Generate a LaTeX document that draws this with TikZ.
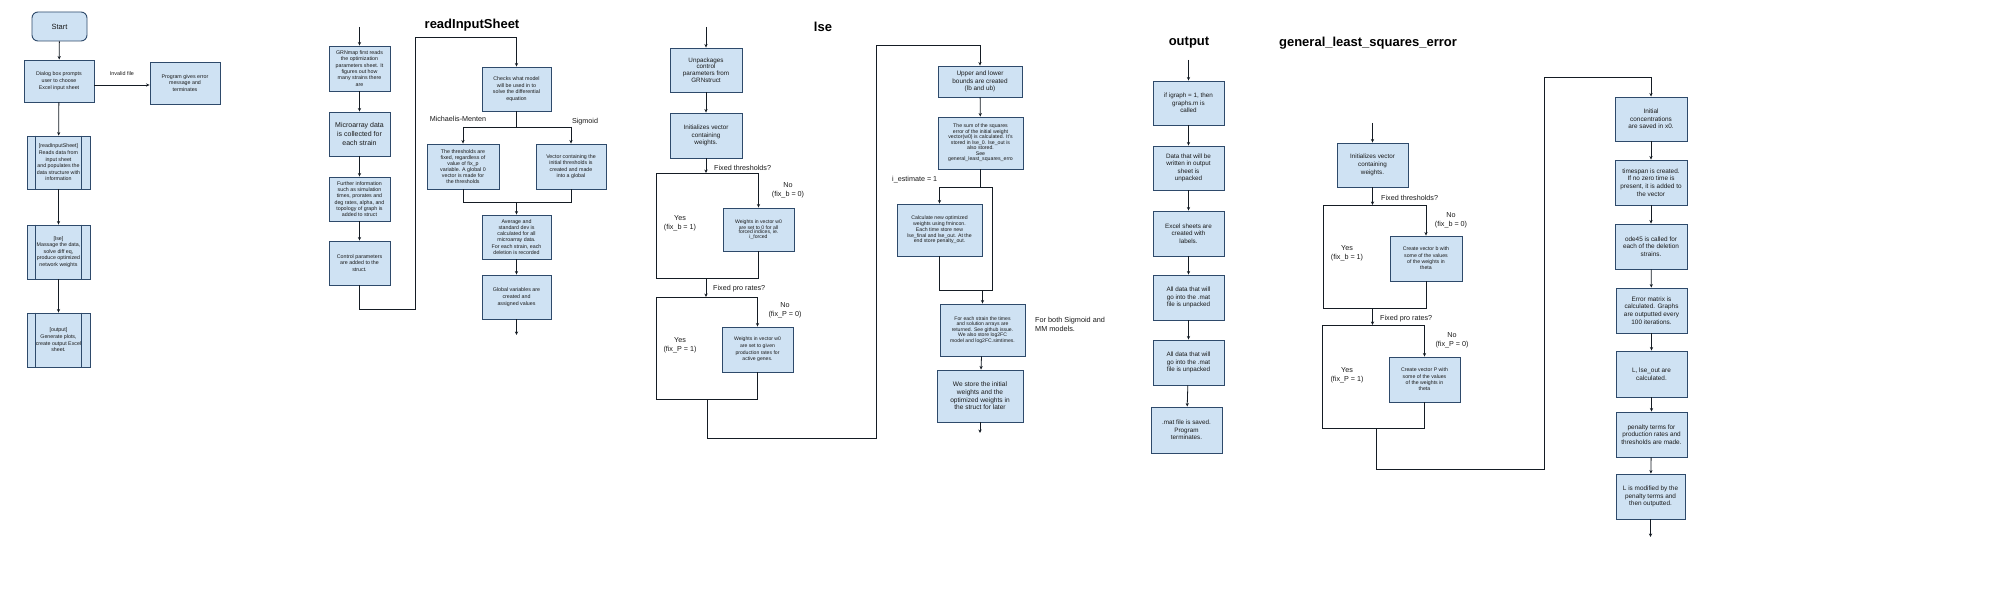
\documentclass[tikz,border=0pt]{standalone}
\usepackage{fontspec}
\setmainfont{Liberation Sans}
\usetikzlibrary{arrows.meta}
\definecolor{boxc}{HTML}{CFE2F3}
\definecolor{bordc}{HTML}{2E4A6B}
\definecolor{linec}{HTML}{151C24}
\definecolor{txtc}{HTML}{1A1A1A}
\newcommand\fsz[2]{\fontsize{#1}{#2}\selectfont}
\begin{document}
\begin{tikzpicture}[x=1pt,y=-1pt,
  box/.style={draw=bordc,fill=boxc,line width=0.9pt,align=center,inner sep=1pt,text=txtc,font=\fsz{5.3}{6.7}},
  bord/.style={draw=bordc,line width=0.9pt},
  arr/.style={-{Stealth[length=3.5pt,width=3.2pt]},line width=0.8pt,draw=linec},
  ln/.style={line width=0.8pt,draw=linec},
  lbl/.style={font=\fsz{7.2}{8.6},align=center,inner sep=0pt,text=txtc},
  ttl/.style={font=\bfseries\fsz{13}{15},inner sep=0pt,text=black}]
\fill[white] (0,0) rectangle (2000,591);
\useasboundingbox (0,0) rectangle (2000,591);

% ---------------- main program ----------------
\node[box,rounded corners=6pt,minimum width=55,minimum height=29,font=\fsz{7.5}{9}] (start) at (59.5,26.5) {Start};
\node[box,minimum width=70,minimum height=42] (dlg) at (59,81) {Dialog box prompts\\user to choose\\Excel input sheet};
\node[box,minimum width=70,minimum height=42] (err) at (185,83) {Program gives error\\message and\\terminates};
\node[box,minimum width=63,minimum height=53,font=\fsz{5.3}{6.6}] (rs) at (58.5,162.5) {[readInputSheet]\\Reads data from\\input sheet\\and populates the\\data structure with\\information};
\node[box,minimum width=63,minimum height=54,font=\fsz{5.3}{6.6}] (ls) at (58.5,252) {[lse]\\Massage the data,\\solve diff eq,\\produce optimized\\network weights};
\node[box,minimum width=63,minimum height=54,font=\fsz{5.3}{6.6}] (os) at (58.5,340) {[output]\\Generate plots,\\create output Excel\\sheet.};
\foreach \n in {rs,ls,os}{
  \draw[bord] ([xshift=9pt]\n.north west) -- ([xshift=9pt]\n.south west);
  \draw[bord] ([xshift=-9pt]\n.north east) -- ([xshift=-9pt]\n.south east);}
\draw[arr] (start) -- (dlg);
\draw[arr] (dlg) -- (rs);
\draw[arr] (rs) -- (ls);
\draw[arr] (ls) -- (os);
\draw[arr] ([yshift=-4pt]dlg.east) -- ([yshift=-4pt]dlg.east -| err.west);
\node[lbl,font=\fsz{5.4}{6.5}] (inv) at (122,74) {Invalid file};

% ---------------- readInputSheet ----------------
\node[ttl] (t1) at (472,25) {readInputSheet};
\coordinate (r0) at (359.5,27);
\node[box,minimum width=61,minimum height=45,font=\fsz{5.3}{6.3}] (R1) at (359.5,68.5) {GRNmap first reads\\the optimization\\parameters sheet. It\\figures out how\\many strains there\\are};
\node[box,minimum width=61,minimum height=44,font=\fsz{7}{9}] (R2) at (359.5,134) {Microarray data\\is collected for\\each strain};
\node[box,minimum width=61,minimum height=44,font=\fsz{5.3}{6.3}] (R3) at (359.5,199) {Further information\\such as simulation\\times, prorates and\\deg rates, alpha, and\\topology of graph is\\added to struct};
\node[box,minimum width=61,minimum height=44] (R4) at (359.5,263) {Control parameters\\are added to the\\struct.};
\node[box,minimum width=69,minimum height=44,font=\fsz{5.3}{6.5}] (R5) at (516.5,89) {Checks what model\\will be used in to\\solve the differential\\equation};
\node[box,minimum width=72,minimum height=45,font=\fsz{5.3}{6.1}] (R6) at (463,166.5) {The thresholds are\\fixed, regardless of\\value of fix\_p\\variable. A global 0\\vector is made for\\the thresholds};
\node[box,minimum width=70,minimum height=45,font=\fsz{5.3}{6.3}] (R7) at (571,166.5) {Vector containing the\\initial thresholds is\\created and made\\into a global};
\node[box,minimum width=69,minimum height=44,font=\fsz{5.3}{6.2}] (R8) at (516.5,237) {Average and\\standard dev is\\calculated for all\\microarray data.\\For each strain, each\\deletion is recorded};
\node[box,minimum width=69,minimum height=44] (R9) at (516.5,297) {Global variables are\\created and\\assigned values};
\coordinate (r9e) at (516.5,335);
\draw[arr] (r0) -- (R1);
\draw[arr] (R1) -- (R2);
\draw[arr] (R2) -- (R3);
\draw[arr] (R3) -- (R4);
\coordinate (ra) at (359.5,309);
\coordinate (rb) at (415,309);
\coordinate (rc) at (415,37);
\coordinate (rd) at (516.5,37);
\draw[arr] (R4.south) -- (ra) -- (rb) -- (rc) -- (rd) -- (R5.north);
\coordinate (rs1) at (516.5,127);
\coordinate (rsl) at (463,127);
\coordinate (rsr) at (571,127);
\draw[ln] (R5.south) -- (rs1);
\draw[ln] (rsl) -- (rsr);
\draw[arr] (rsl) -- (R6.north);
\draw[arr] (rsr) -- (R7.north);
\coordinate (rml) at (463,202);
\coordinate (rmr) at (571,202);
\coordinate (rmm) at (516.5,202);
\draw[ln] (R6.south) -- (rml) -- (rmr) -- (R7.south);
\draw[arr] (rmm) -- (R8.north);
\draw[arr] (R8) -- (R9);
\draw[arr] (R9.south) -- (r9e);
\node[lbl] (mm) at (458,119) {Michaelis-Menten};
\node[lbl] (sg) at (585,122) {Sigmoid};

% ---------------- lse ----------------
\node[ttl] (t2) at (823,27) {lse};
\coordinate (l0) at (706,27);
\node[box,minimum width=72,minimum height=44,font=\fsz{6.3}{6.8}] (L1) at (706,70) {Unpackages\\control\\parameters from\\GRNstruct};
\node[box,minimum width=72,minimum height=45,font=\fsz{6.3}{7.5}] (L2) at (706,135.5) {Initializes vector\\containing\\weights.};
\node[box,minimum width=71,minimum height=43,font=\fsz{5.1}{4.7}] (L3) at (758.5,229.5) {Weights in vector w0\\are set to 0 for all\\forced indices, ie.\\i\_forced};
\node[box,minimum width=71,minimum height=45,font=\fsz{5.1}{6.6}] (L4) at (757.5,349.5) {Weights in vector w0\\are set to given\\production rates for\\active genes.};
\draw[arr] (l0) -- (L1);
\draw[arr] (L1) -- (L2);
\coordinate (la1) at (706,173);
\coordinate (ll1) at (656,173);
\coordinate (lr1) at (758.5,173);
\coordinate (lb1l) at (656,278);
\coordinate (lb1r) at (758.5,278);
\coordinate (lb1m) at (706,278);
\draw[arr] (L2.south) -- (la1);
\draw[ln] (ll1) -- (lr1);
\draw[arr] (lr1) -- (L3.north);
\draw[ln] (ll1) -- (lb1l) -- (lb1r) -- (L3.south);
\coordinate (la2) at (706,297);
\coordinate (ll2) at (656,297);
\coordinate (lr2) at (757.5,297);
\coordinate (lb2l) at (656,399);
\coordinate (lb2r) at (757.5,399);
\coordinate (lb2m) at (707,399);
\draw[arr] (lb1m) -- (la2);
\draw[ln] (ll2) -- (lr2);
\draw[arr] (lr2) -- (L4.north);
\draw[ln] (ll2) -- (lb2l) -- (lb2r) -- (L4.south);
\node[lbl,anchor=west] (q1) at (714,168) {Fixed thresholds?};
\node[lbl] (n1) at (788,190) {No\\(fix\_b = 0)};
\node[lbl] (y1) at (680,223) {Yes\\(fix\_b = 1)};
\node[lbl,anchor=west] (q2) at (713,289) {Fixed pro rates?};
\node[lbl] (n2) at (785,310) {No\\(fix\_P = 0)};
\node[lbl] (y2) at (680,345) {Yes\\(fix\_P = 1)};

\node[box,minimum width=84,minimum height=31,font=\fsz{6.4}{7.5}] (L5) at (980,81.5) {Upper and lower\\bounds are created\\(lb and ub)};
\node[box,minimum width=85,minimum height=52,font=\fsz{5.2}{5.5}] (L6) at (980.5,143) {The sum of the squares\\error of the initial weight\\vector(w0) is calculated. It's\\stored in lse\_0. lse\_out is\\also stored.\\See\\general\_least\_squares\_erro};
\node[box,minimum width=85,minimum height=52,font=\fsz{5.2}{5.8}] (L7) at (939.5,230) {Calculate new optimized\\weights using fmincon.\\Each time store new\\lse\_final and lse\_out. At the\\end store penalty\_out.};
\node[box,minimum width=85,minimum height=52,font=\fsz{5.1}{5.5}] (L8) at (982.5,330) {For each strain the times\\and solution arrays are\\returned. See github issue.\\We also store log2FC\\model and log2FC.simtimes.};
\node[box,minimum width=86,minimum height=52,font=\fsz{6.6}{7.7}] (L9) at (980,396) {We store the initial\\weights and the\\optimized weights in\\the struct for later};
\coordinate (lc1) at (876,438);
\coordinate (lc2) at (876,45);
\coordinate (lc3) at (980,45);
\draw[arr] (lb2m) -- (lb2m |- lc1) -- (lc1) -- (lc2) -- (lc3) -- (L5.north);
\draw[arr] (L5) -- (L6);
\coordinate (ls1) at (980.5,187);
\coordinate (lsl) at (939.5,187);
\coordinate (lsr) at (992,187);
\coordinate (lml) at (939.5,290);
\coordinate (lmr) at (992,290);
\coordinate (lmm) at (982.5,290);
\draw[ln] (L6.south) -- (ls1);
\draw[ln] (lsl) -- (lsr) -- (lmr) -- (lml) -- (L7.south);
\draw[arr] (lsl) -- (L7.north);
\draw[arr] (lmm) -- (L8.north);
\draw[arr] (L8) -- (L9);
\coordinate (l9e) at (980,433);
\draw[arr] (L9.south) -- (l9e);
\node[lbl,anchor=west] (ie) at (892,180) {i\_estimate = 1};
\node[lbl,anchor=west,align=left,font=\fsz{7.3}{9}] (fb) at (1035,324.5) {For both Sigmoid and\\MM models.};

% ---------------- output ----------------
\node[ttl] (t3) at (1189,43) {output};
\coordinate (o0) at (1188.5,60);
\node[box,minimum width=71,minimum height=44,font=\fsz{6.3}{7.7}] (O1) at (1188.5,103) {if igraph = 1, then\\graphs.m is\\called};
\node[box,minimum width=71,minimum height=44,font=\fsz{6.3}{7.5}] (O2) at (1188.5,168) {Data that will be\\written in output\\sheet is\\unpacked};
\node[box,minimum width=71,minimum height=45,font=\fsz{6.3}{7.7}] (O3) at (1188.5,233.5) {Excel sheets are\\created with\\labels.};
\node[box,minimum width=71,minimum height=45,font=\fsz{6.3}{7.7}] (O4) at (1188.5,297.5) {All data that will\\go into the .mat\\file is unpacked};
\node[box,minimum width=71,minimum height=45,font=\fsz{6.3}{7.7}] (O5) at (1188.5,362.5) {All data that will\\go into the .mat\\file is unpacked};
\node[box,minimum width=71,minimum height=46,font=\fsz{6.3}{7.7}] (O6) at (1186.5,430) {.mat file is saved.\\Program\\terminates.};
\draw[arr] (o0) -- (O1);
\draw[arr] (O1) -- (O2);
\draw[arr] (O2) -- (O3);
\draw[arr] (O3) -- (O4);
\draw[arr] (O4) -- (O5);
\draw[arr] (O5) -- (O6);

% ---------------- general_least_squares_error ----------------
\node[ttl] (t4) at (1368,43) {general\_least\_squares\_error};
\coordinate (g0) at (1372.5,123);
\node[box,minimum width=71,minimum height=44,font=\fsz{6.3}{7.8}] (G1) at (1372.5,165) {Initializes vector\\containing\\weights.};
\node[box,minimum width=72,minimum height=45,font=\fsz{5.2}{6.4}] (G2) at (1426,258.5) {Create vector b with\\some of the values\\of the weights in\\theta};
\node[box,minimum width=71,minimum height=45,font=\fsz{5.2}{6.4}] (G3) at (1424.5,379.5) {Create vector P with\\some of the values\\of the weights in\\theta};
\draw[arr] (g0) -- (G1);
\coordinate (ga1) at (1372.5,205);
\coordinate (gl1) at (1323,205);
\coordinate (gr1) at (1426,205);
\coordinate (gb1l) at (1323,308);
\coordinate (gb1r) at (1426,308);
\coordinate (gb1m) at (1372.5,308);
\draw[arr] (G1.south) -- (ga1);
\draw[ln] (gl1) -- (gr1);
\draw[arr] (gr1) -- (G2.north);
\draw[ln] (gl1) -- (gb1l) -- (gb1r) -- (G2.south);
\coordinate (ga2) at (1372.5,325);
\coordinate (gl2) at (1322,325);
\coordinate (gr2) at (1424.5,325);
\coordinate (gb2l) at (1322,428);
\coordinate (gb2r) at (1424.5,428);
\coordinate (gb2m) at (1376,428);
\draw[arr] (gb1m) -- (ga2);
\draw[ln] (gl2) -- (gr2);
\draw[arr] (gr2) -- (G3.north);
\draw[ln] (gl2) -- (gb2l) -- (gb2r) -- (G3.south);
\node[lbl,anchor=west] (gq1) at (1381,198) {Fixed thresholds?};
\node[lbl] (gn1) at (1451,220) {No\\(fix\_b = 0)};
\node[lbl] (gy1) at (1347,253) {Yes\\(fix\_b = 1)};
\node[lbl,anchor=west] (gq2) at (1380,319) {Fixed pro rates?};
\node[lbl] (gn2) at (1452,340) {No\\(fix\_P = 0)};
\node[lbl] (gy2) at (1347,375) {Yes\\(fix\_P = 1)};

\node[box,minimum width=72,minimum height=44,font=\fsz{6.4}{7.7}] (G4) at (1651,119) {Initial\\concentrations\\are saved in x0.};
\node[box,minimum width=72,minimum height=45,font=\fsz{6.4}{7.7}] (G5) at (1651,182.5) {timespan is created.\\If no zero time is\\present, it is added to\\the vector};
\node[box,minimum width=72,minimum height=45,font=\fsz{6.4}{7.7}] (G6) at (1651,246.5) {ode45 is called for\\each of the deletion\\strains.};
\node[box,minimum width=71,minimum height=45,font=\fsz{6.4}{7.7}] (G7) at (1651.5,310.5) {Error matrix is\\calculated. Graphs\\are outputted every\\100 iterations.};
\node[box,minimum width=71,minimum height=46,font=\fsz{6.4}{7.7}] (G8) at (1651.5,374) {L, lse\_out are\\calculated.};
\node[box,minimum width=71,minimum height=45,font=\fsz{6.4}{7.7}] (G9) at (1651.5,434.5) {penalty terms for\\production rates and\\thresholds are made.};
\node[box,minimum width=69,minimum height=45,font=\fsz{6.4}{7.7}] (G10) at (1650.5,496.5) {L is modified by the\\penalty terms and\\then outputted.};
\coordinate (gc1) at (1544,469);
\coordinate (gc2) at (1544,77);
\coordinate (gc3) at (1651,77);
\draw[arr] (gb2m) -- (gb2m |- gc1) -- (gc1) -- (gc2) -- (gc3) -- (G4.north);
\draw[arr] (G4) -- (G5);
\draw[arr] (G5) -- (G6);
\draw[arr] (G6) -- (G7);
\draw[arr] (G7) -- (G8);
\draw[arr] (G8) -- (G9);
\draw[arr] (G9) -- (G10);
\coordinate (g10e) at (1650.5,537);
\draw[arr] (G10.south) -- (g10e);
\end{tikzpicture}
\end{document}
